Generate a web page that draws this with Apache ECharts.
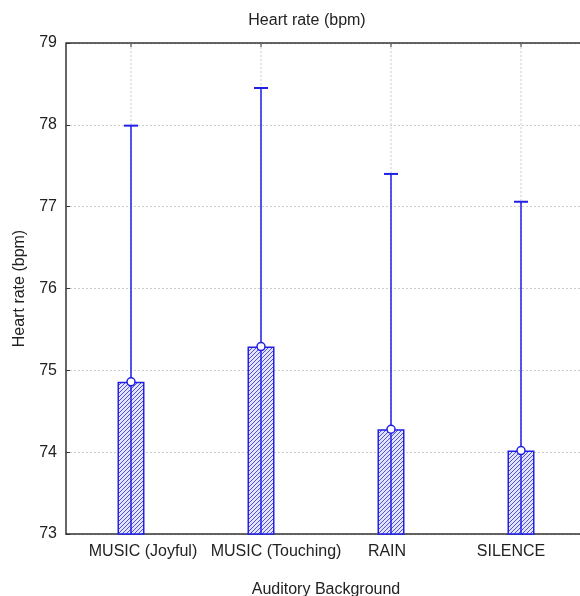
<!DOCTYPE html>
<html>
<head>
<meta charset="utf-8">
<script src="https://cdn.jsdelivr.net/npm/echarts@6/dist/echarts.min.js"></script>
<style>
  html, body { margin: 0; padding: 0; background: #fff; }
  #chart { width: 580px; height: 596px; }
</style>
</head>
<body>
<div id="chart"></div>
<script>
const categories = ['MUSIC (Joyful)', 'MUSIC (Touching)', 'RAIN', 'SILENCE'];
const means = [74.86, 75.29, 74.28, 74.02];
const upper = [77.99, 78.45, 77.40, 77.06];
const yMin = 73;
const yMax = 79;

// diagonal hatch for the bars
const hatch = document.createElement('canvas');
hatch.width = 4;
hatch.height = 4;
const hc = hatch.getContext('2d');
hc.fillStyle = '#e4e4f9';
hc.fillRect(0, 0, 4, 4);
hc.strokeStyle = '#5050e2';
hc.lineWidth = 1;
hc.beginPath();
hc.moveTo(0, 4); hc.lineTo(4, 0);
hc.moveTo(-1, 1); hc.lineTo(1, -1);
hc.moveTo(3, 5); hc.lineTo(5, 3);
hc.stroke();

const blue = '#1f1fe8';
const font = 'Liberation Sans, Arial, sans-serif';
const labelStyle = { fontFamily: font, fontSize: 16, color: '#222' };

const myChart = echarts.init(document.getElementById('chart'));

myChart.setOption({
  animation: false,
  title: {
    text: 'Heart rate (bpm)',
    left: 302,
    textAlign: 'center',
    top: 8,
    textStyle: { fontFamily: font, fontSize: 16, fontWeight: 'normal', color: '#222' }
  },
  grid: { left: 66, right: -6, top: 43, bottom: 62, containLabel: false, outerBoundsMode: 'none' },
  xAxis: {
    type: 'category',
    data: categories,
    name: 'Auditory Background',
    nameLocation: 'center',
    nameGap: 48,
    nameTextStyle: { fontFamily: font, fontSize: 16, color: '#222' },
    axisLine: { show: true, lineStyle: { color: '#333', width: 1.5 } },
    axisTick: { show: false },
    axisLabel: {
      interval: 0,
      margin: 10,
      formatter: (v, i) => '{l' + i + '|' + v + '}',
      rich: {
        l0: Object.assign({ padding: [0, 0, 0, 24] }, labelStyle),
        l1: Object.assign({ padding: [0, 0, 0, 30] }, labelStyle),
        l2: Object.assign({ padding: [0, 8, 0, 0] }, labelStyle),
        l3: Object.assign({ padding: [0, 20, 0, 0] }, labelStyle)
      }
    },
    splitLine: { show: false }
  },
  yAxis: {
    type: 'value',
    min: yMin,
    max: yMax,
    interval: 1,
    name: 'Heart rate (bpm)',
    nameLocation: 'center',
    nameGap: 38,
    nameTextStyle: { fontFamily: font, fontSize: 16, color: '#222' },
    axisLine: { show: true, lineStyle: { color: '#333', width: 1.5 } },
    axisTick: { show: true, inside: true, length: 4, lineStyle: { color: '#333' } },
    axisLabel: { fontFamily: font, fontSize: 16, color: '#222', margin: 9 },
    splitLine: { show: true, lineStyle: { color: '#ccc', type: [2, 2] } }
  },
  series: [
    {
      // vertical grid lines at category centres + top tick
      type: 'custom',
      data: categories.map((c, i) => [i]),
      renderItem: (params, api) => {
        const top = api.coord([api.value(0), yMax]);
        const bottom = api.coord([api.value(0), yMin]);
        return {
          type: 'group',
          children: [
            {
              type: 'line',
              shape: { x1: top[0], y1: top[1], x2: bottom[0], y2: bottom[1] },
              style: { stroke: '#ccc', lineWidth: 1, lineDash: [2, 2] }
            },
            {
              type: 'line',
              shape: { x1: top[0], y1: top[1], x2: top[0], y2: top[1] + 4 },
              style: { stroke: '#333', lineWidth: 1 }
            }
          ]
        };
      },
      z: 1,
      silent: true
    },
    {
      type: 'bar',
      data: means,
      barWidth: 27,
      itemStyle: {
        color: { image: hatch, repeat: 'repeat' },
        borderColor: blue,
        borderWidth: 1.5
      },
      z: 2
    },
    {
      // upper error bars, line runs down through the bar centre
      type: 'custom',
      data: upper.map((u, i) => [i, u]),
      renderItem: (params, api) => {
        const top = api.coord([api.value(0), api.value(1)]);
        const bottom = api.coord([api.value(0), yMin]);
        const half = 7;
        return {
          type: 'group',
          children: [
            {
              type: 'line',
              shape: { x1: top[0], y1: top[1], x2: bottom[0], y2: bottom[1] },
              style: { stroke: blue, lineWidth: 1.5 }
            },
            {
              type: 'line',
              shape: { x1: top[0] - half, y1: top[1], x2: top[0] + half, y2: top[1] },
              style: { stroke: blue, lineWidth: 2 }
            }
          ]
        };
      },
      z: 3
    },
    {
      type: 'scatter',
      data: means,
      symbol: 'circle',
      symbolSize: 8,
      itemStyle: { color: '#fff', borderColor: blue, borderWidth: 1.5, opacity: 1 },
      z: 4
    }
  ]
});

// top frame line across the plot
myChart.setOption({
  graphic: [{
    type: 'line',
    shape: { x1: 66, y1: 43, x2: 580, y2: 43 },
    style: { stroke: '#333', lineWidth: 1.5 }
  }]
});
</script>
</body>
</html>
